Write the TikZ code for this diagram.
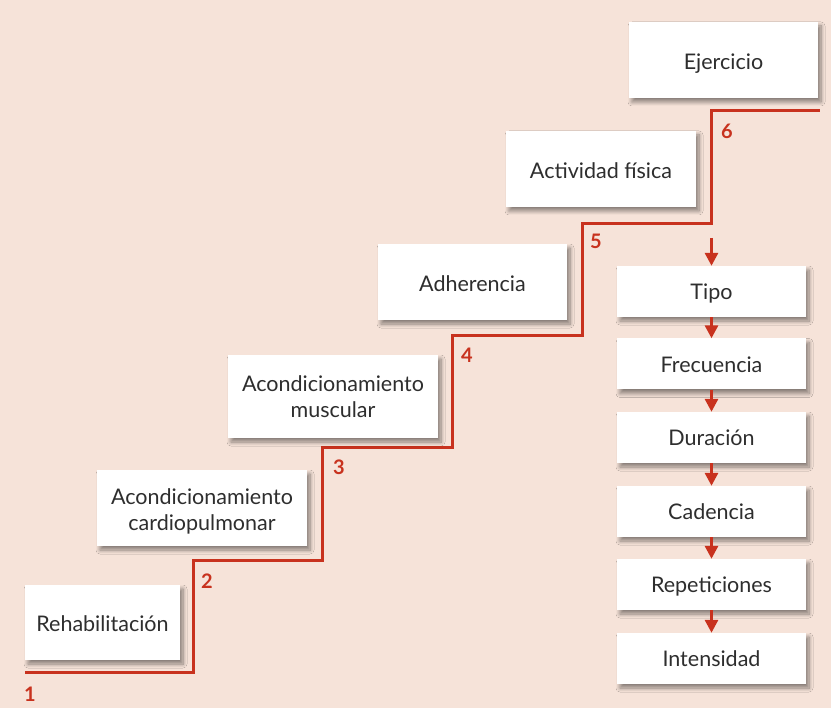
\documentclass[tikz,border=0pt]{standalone}
\usepackage{fontspec}
\setmainfont{Lato}
\usetikzlibrary{arrows.meta,shadows.blur}
\definecolor{bgpeach}{HTML}{F6E3D9}
\definecolor{stairred}{HTML}{C8321E}
\definecolor{textgray}{HTML}{2E2E2E}
\begin{document}
\begin{tikzpicture}[x=1pt,y=-1pt,
  card/.style={fill=white, draw=none, inner sep=0pt, align=center,
    text=textgray, font=\fontsize{21.5}{26}\selectfont,
    blur shadow={shadow xshift=3pt, shadow yshift=-4pt, shadow blur steps=8,
      shadow blur radius=4pt, shadow opacity=45}},
  stepcard/.style={card, minimum width=#1, minimum height=76pt,
    text height=20.5pt, text depth=2pt},
  twocard/.style={card, minimum width=210pt, text height=#1, text depth=2pt},
  listcard/.style={card, minimum width=189pt, minimum height=51pt,
    text height=19pt, text depth=2.6pt},
  stairline/.style={draw=stairred, line width=3pt},
  flowarrow/.style={draw=stairred, line width=3pt,
    -{Triangle[width=13pt,length=13pt]}, shorten >=0pt},
  stepnum/.style={text=stairred, font=\fontsize{20}{20}\selectfont\bfseries, inner sep=0pt}]

% background
\fill[bgpeach] (0,0) rectangle (831,708);
\useasboundingbox (0,0) rectangle (831,708);

% staircase
\coordinate (s0) at (25,673);
\coordinate (s1) at (193,673);
\coordinate (s2) at (193,561);
\coordinate (s3) at (322,561);
\coordinate (s4) at (322,448);
\coordinate (s5) at (452,448);
\coordinate (s6) at (452,336);
\coordinate (s7) at (582,336);
\coordinate (s8) at (582,224);
\coordinate (s9) at (711.5,224);
\coordinate (s10) at (711.5,111);
\coordinate (s11) at (820,111);
\draw[stairline, line join=miter] (s0) -- (s1) -- (s2) -- (s3) -- (s4) -- (s5)
  -- (s6) -- (s7) -- (s8) -- (s9) -- (s10) -- (s11);

% step numbers
\node[stepnum] (n1) at (30,694) {1};
\node[stepnum] (n2) at (207,581) {2};
\node[stepnum] (n3) at (339,467) {3};
\node[stepnum] (n4) at (467,355) {4};
\node[stepnum] (n5) at (596,241) {5};
\node[stepnum] (n6) at (727,131) {6};

% stair cards
\node[stepcard=189pt] (ejer) at (723.5,60) {Ejercicio};
\node[stepcard=190pt] (act) at (601,169) {Actividad física};
\node[stepcard=189pt] (adh) at (472.5,282) {Adherencia};
\node[twocard=45pt, minimum height=83pt] (musc) at (333,396.5) {Acondicionamiento\\muscular};
\node[twocard=48pt, minimum height=76pt] (card) at (202,508) {Acondicionamiento\\cardiopulmonar};
\node[stepcard=155pt, minimum height=75pt] (rehab) at (102.5,622.5) {Rehabilitación};

% exercise components
\node[listcard] (tipo) at (711.5,291.5) {Tipo};
\node[listcard] (frec) at (711.5,364) {Frecuencia};
\node[listcard] (dur) at (711.5,437.5) {Duración};
\node[listcard] (cad) at (711.5,511.5) {Cadencia};
\node[listcard] (rep) at (711.5,584.5) {Repeticiones};
\node[listcard] (int) at (711.5,658.5) {Intensidad};

% arrows
\coordinate (astart) at (711.5,238);
\draw[flowarrow] (astart) -- (tipo.north);
\draw[flowarrow] (tipo.south) -- (frec.north);
\draw[flowarrow] (frec.south) -- (dur.north);
\draw[flowarrow] (dur.south) -- (cad.north);
\draw[flowarrow] (cad.south) -- (rep.north);
\draw[flowarrow] (rep.south) -- (int.north);
\end{tikzpicture}
\end{document}
